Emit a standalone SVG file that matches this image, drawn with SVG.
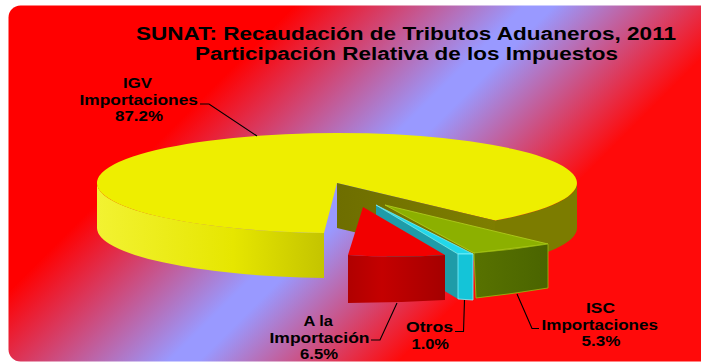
<svg xmlns="http://www.w3.org/2000/svg" width="701" height="362" viewBox="0 0 701 362">
  <defs>
    <linearGradient id="bg" gradientUnits="userSpaceOnUse" x1="0" y1="0" x2="500" y2="500">
      <stop offset="0.30" stop-color="#FF0000"/>
      <stop offset="0.53" stop-color="#9999FF"/>
      <stop offset="0.56" stop-color="#9999FF"/>
      <stop offset="0.76" stop-color="#FF0A0A"/>
    </linearGradient>
    <linearGradient id="ySide" gradientUnits="userSpaceOnUse" x1="97" y1="0" x2="324" y2="0">
      <stop offset="0" stop-color="#F2F232"/>
      <stop offset="0.6" stop-color="#E6E600"/>
      <stop offset="1" stop-color="#C4C400"/>
    </linearGradient>
    <linearGradient id="oCut" gradientUnits="userSpaceOnUse" x1="337" y1="0" x2="495" y2="0">
      <stop offset="0" stop-color="#6E6E00"/>
      <stop offset="1" stop-color="#7E7E00"/>
    </linearGradient>
    <linearGradient id="rFront" gradientUnits="userSpaceOnUse" x1="348" y1="0" x2="445" y2="0">
      <stop offset="0" stop-color="#B00000"/>
      <stop offset="0.35" stop-color="#C40000"/>
      <stop offset="1" stop-color="#A40000"/>
    </linearGradient>
    <linearGradient id="gFront" gradientUnits="userSpaceOnUse" x1="474" y1="0" x2="548" y2="0">
      <stop offset="0" stop-color="#587200"/>
      <stop offset="1" stop-color="#4A6400"/>
    </linearGradient>
    <style>
      .lbl { font-family: "Liberation Sans", Arial, sans-serif; font-weight: bold; font-size: 15px; fill: #000; }
      .ttl { font-family: "Liberation Sans", Arial, sans-serif; font-weight: bold; font-size: 17.5px; fill: #000; }
      .lead { fill: none; stroke: #000; stroke-width: 1.1; }
    </style>
  </defs>

  <rect id="background" x="8.5" y="5.5" width="720" height="356" rx="12" fill="url(#bg)"/>

  <g id="title">
    <text class="ttl" x="136" y="40" textLength="540" lengthAdjust="spacingAndGlyphs">SUNAT: Recaudación de Tributos Aduaneros, 2011</text>
    <text class="ttl" x="195" y="59.5" textLength="423" lengthAdjust="spacingAndGlyphs">Participación Relativa de los Impuestos</text>
  </g>

  <g id="node-igv">
    <path d="M577,183 A240,50 0 0,1 495,220.6 L495,265.6 A240,50 0 0,0 577,228 Z" fill="#7C7C00"/>
    <path d="M324,232.9 A240,50 0 0,1 97,183 L97,228 A240,50 0 0,0 324,277.9 Z" fill="url(#ySide)"/>
    <path d="M337,183 L495,220.6 A240,50 0 1,0 324,232.9 Z" fill="#EEEE00"/>
    <path d="M337,183 L495,220.6 L495,265.6 L337,228 Z" fill="url(#oCut)"/>
    <text class="lbl" x="123" y="88" textLength="29" lengthAdjust="spacingAndGlyphs">IGV</text>
    <text class="lbl" x="79.5" y="104.5" textLength="118.5" lengthAdjust="spacingAndGlyphs">Importaciones</text>
    <text class="lbl" x="115" y="120.5" textLength="48" lengthAdjust="spacingAndGlyphs">87.2%</text>
  </g>

  <g id="node-isc">
    <path d="M385,205 L548,244 L474,253 Z" fill="#8CB000" stroke="#B4D21E" stroke-width="0.8" stroke-linejoin="round"/>
    <path d="M474,253 Q512,250 548,244 L548,288 Q512,294 476,298 Z" fill="url(#gFront)" stroke="#9CBE10" stroke-width="0.8" stroke-linejoin="round"/>
    <text class="lbl" x="586" y="313" textLength="29" lengthAdjust="spacingAndGlyphs">ISC</text>
    <text class="lbl" x="541.5" y="329.5" textLength="116.5" lengthAdjust="spacingAndGlyphs">Importaciones</text>
    <text class="lbl" x="581.5" y="345.5" textLength="39" lengthAdjust="spacingAndGlyphs">5.3%</text>
  </g>

  <g id="node-otros">
    <path d="M376,205 L458,254 L458,299 L376,250 Z" fill="#1E9CA8"/>
    <path d="M376,205 L473,254 L458,254 Z" fill="#22D8EA" stroke="#80F4FF" stroke-width="0.7" stroke-linejoin="round"/>
    <path d="M458,254 L473,254 L473,300 L458,299 Z" fill="#14C4D8" stroke="#80F4FF" stroke-width="0.8"/>
    <text class="lbl" x="406" y="331.5" textLength="47" lengthAdjust="spacingAndGlyphs">Otros</text>
    <text class="lbl" x="411.5" y="348.5" textLength="37.5" lengthAdjust="spacingAndGlyphs">1.0%</text>
  </g>

  <g id="node-ala">
    <path d="M363,207 L445,255 Q396,258 348,255 Z" fill="#F20000"/>
    <path d="M348,255 Q396,258 445,255 L445,300 Q396,303 348,303 Z" fill="url(#rFront)"/>
    <text class="lbl" x="303.5" y="325.5" textLength="29.5" lengthAdjust="spacingAndGlyphs">A la</text>
    <text class="lbl" x="269.5" y="342.5" textLength="100" lengthAdjust="spacingAndGlyphs">Importación</text>
    <text class="lbl" x="300" y="359" textLength="38" lengthAdjust="spacingAndGlyphs">6.5%</text>
  </g>

  <g id="connectors">
    <path class="lead" d="M200,104 L209,104 L257,136"/>
    <path class="lead" d="M371,340 L380,340 L397,303"/>
    <path class="lead" d="M455,331.5 L463.5,331.5 L464.5,300"/>
    <path class="lead" d="M539,328.5 L532,328.5 L517,294"/>
  </g>
</svg>
